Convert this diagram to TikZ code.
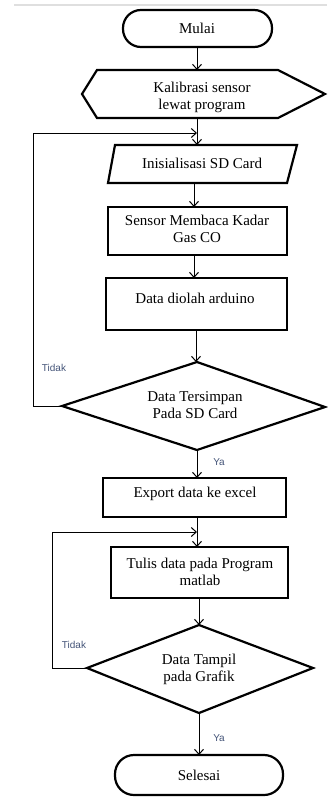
\documentclass[tikz,border=0pt]{standalone}
\usepackage{fontspec}
\setmainfont{Liberation Serif}
\newfontfamily\labelfont{Liberation Sans}
\usetikzlibrary{arrows.meta}
\definecolor{lblc}{RGB}{68,84,120}
\begin{document}
\begin{tikzpicture}[x=1pt,y=-1pt,
  shapebox/.style={draw=black,line width=2.2pt,line join=miter},
  conn/.style={line width=1pt},
  arr/.style={conn,-{Straight Barb[length=5pt,width=9pt]}},
  txt/.style={font=\fontsize{15}{17}\selectfont,align=center,inner sep=0pt},
  lbl/.style={font=\labelfont\fontsize{10}{12}\selectfont,text=lblc,inner sep=0pt}]
\useasboundingbox (0,0) rectangle (327,798);
\draw[gray!25,line width=2pt] (14,5) -- (327,5);

% Mulai
\draw[shapebox,rounded corners=18pt] (123,10) rectangle (272,47);
\node[txt] (start) at (197,28) {Mulai};
\coordinate (startS) at (197,47);

% Kalibrasi
\draw[shapebox] (82,94) -- (97,70) -- (278,70) -- (325,94) -- (278,118) -- (97,118) -- cycle;
\node[txt] (kal) at (202,97) {Kalibrasi sensor\\lewat program};
\coordinate (kalN) at (197,70);
\coordinate (kalS) at (197,118);

% Inisialisasi
\draw[shapebox] (108,183) -- (115,145) -- (297,145) -- (287,183) -- cycle;
\node[txt] (init) at (202,163) {Inisialisasi SD Card};
\coordinate (initN) at (197,145);
\coordinate (initS) at (194,183);

% Sensor
\draw[shapebox] (108,207) rectangle (287,255);
\node[txt] (sens) at (197,229) {Sensor Membaca Kadar\\Gas CO};
\coordinate (sensN) at (194,207);
\coordinate (sensS) at (194,255);

% Data diolah
\draw[shapebox] (106,278) rectangle (287,330);
\node[txt] (olah) at (195,298) {Data diolah arduino};
\coordinate (olahN) at (194,278);
\coordinate (olahS) at (196,330);

% Decision 1
\draw[shapebox] (197,362) -- (325,407) -- (197,450) -- (62,406) -- cycle;
\node[txt] (dec1) at (195,405) {Data Tersimpan\\Pada SD Card};
\coordinate (dec1N) at (196,362);
\coordinate (dec1S) at (197,450);
\coordinate (dec1W) at (62,406);
\coordinate (c1a) at (33,406);
\coordinate (c1b) at (33,133);
\coordinate (j1) at (197,133);
\node[lbl] (tidak1) at (54,368) {Tidak};
\node[lbl] (ya1) at (219,462) {Ya};

% Export
\draw[shapebox] (103,478) rectangle (286,517);
\node[txt] (exp) at (195,494) {Export data ke excel};
\coordinate (expN) at (197,478);
\coordinate (expS) at (197,517);

% Tulis
\draw[shapebox] (111,547) rectangle (288,598);
\node[txt] (tulis) at (200,572) {Tulis data pada Program\\matlab};
\coordinate (tulisN) at (197,547);
\coordinate (tulisS) at (199,598);

% Decision 2
\draw[shapebox] (199,625) -- (313,668) -- (199,713) -- (87,668) -- cycle;
\node[txt] (dec2) at (199,669) {Data Tampil\\pada Grafik};
\coordinate (dec2N) at (199,625);
\coordinate (dec2S) at (199,713);
\coordinate (dec2W) at (87,668);
\coordinate (c2a) at (52,668);
\coordinate (c2b) at (52,532);
\coordinate (j2) at (197,532);
\node[lbl] (tidak2) at (74,645) {Tidak};
\node[lbl] (ya2) at (219,738) {Ya};

% Selesai
\draw[shapebox,rounded corners=19pt] (115,755) rectangle (283,795);
\node[txt] (end) at (199,775) {Selesai};
\coordinate (endN) at (199,755);

% connectors
\draw[arr] (startS) -- (kalN);
\draw[arr] (kalS) -- (initN);
\draw[arr] (initS) -- (sensN);
\draw[arr] (sensS) -- (olahN);
\draw[arr] (olahS) -- (dec1N);
\draw[arr] (dec1W) -- (c1a) -- (c1b) -- (j1);
\draw[arr] (dec1S) -- (expN);
\draw[arr] (expS) -- (tulisN);
\draw[arr] (tulisS) -- (dec2N);
\draw[arr] (dec2W) -- (c2a) -- (c2b) -- (j2);
\draw[arr] (dec2S) -- (endN);
\end{tikzpicture}
\end{document}
